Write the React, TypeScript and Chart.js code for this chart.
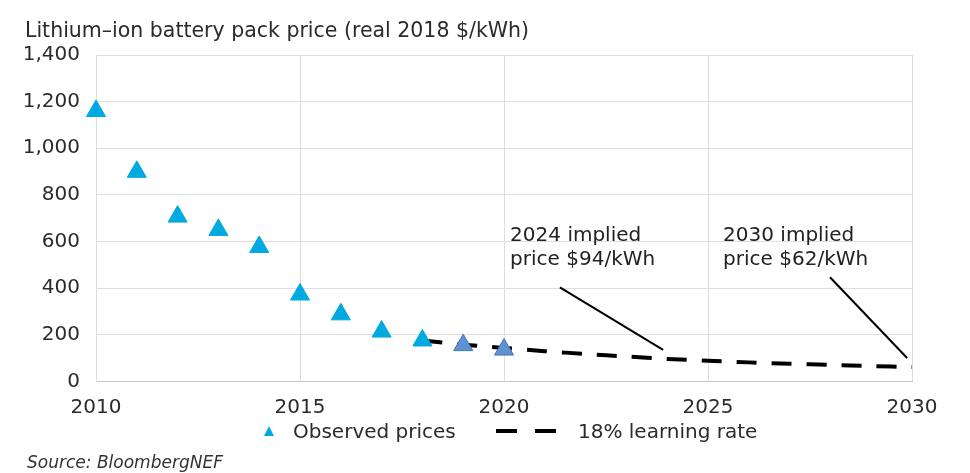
import React, { useEffect, useRef } from "react";
import { Chart, registerables } from "chart.js";

Chart.register(...registerables);

// ---- Data ----
const observedYears = [2010, 2011, 2012, 2013, 2014, 2015, 2016, 2017, 2018, 2019, 2020];
const observedPrices = [1160, 899, 707, 650, 577, 373, 288, 214, 176, 156, 137];
const observedColors = [
  "#00A9E0", "#00A9E0", "#00A9E0", "#00A9E0", "#00A9E0", "#00A9E0",
  "#00A9E0", "#00A9E0", "#00A9E0", "#5B93D3", "#5B93D3",
];
const observedBorders = [
  "#00A9E0", "#00A9E0", "#00A9E0", "#00A9E0", "#00A9E0", "#00A9E0",
  "#00A9E0", "#00A9E0", "#00A9E0", "#4676B0", "#4676B0",
];

const curveYears = [2018, 2019, 2020, 2021, 2022, 2023, 2024, 2025, 2026, 2027, 2028, 2029, 2030];
const curvePrices = [176, 158, 144, 130, 118, 107, 97, 89, 82, 76, 71, 66, 62];

const leader1Years = [2021.37, 2023.9];
const leader1Prices = [404, 136];
const leader2Years = [2027.99, 2029.88];
const leader2Prices = [447, 101];

const annotations = [
  { x: 2020.15, y: 624, lines: ["2024 implied", "price $94/kWh"] },
  { x: 2025.37, y: 624, lines: ["2030 implied", "price $62/kWh"] },
];

const xTicks = [2010, 2015, 2020, 2025, 2030];
const yTicks = [0, 200, 400, 600, 800, 1000, 1200, 1400];

const titleText = "Lithium\u2013ion battery pack price (real 2018 $/kWh)";
const legendObserved = "Observed prices";
const legendCurve = "18% learning rate";
const sourceText = "Source: BloombergNEF";

const FONT = "'DejaVu Sans', 'Open Sans', sans-serif";
const TEXT = "#2b2b2b";

const annotationPlugin = {
  id: "annotText",
  afterDatasetsDraw(chart: any) {
    const { ctx, scales } = chart;
    ctx.save();
    ctx.font = `20px ${FONT}`;
    ctx.fillStyle = "#222222";
    ctx.textAlign = "left";
    ctx.textBaseline = "middle";
    annotations.forEach((a) => {
      const px = scales.x.getPixelForValue(a.x);
      const py = scales.y.getPixelForValue(a.y);
      a.lines.forEach((l, i) => ctx.fillText(l, px, py + i * 24));
    });
    ctx.restore();
  },
};

export default function App() {
  const ref = useRef<HTMLCanvasElement | null>(null);

  useEffect(() => {
    if (!ref.current) return;
    const chart = new Chart(ref.current, {
      type: "scatter",
      data: {
        datasets: [
          {
            label: legendObserved,
            data: observedYears.map((x, i) => ({ x, y: observedPrices[i] })),
            pointStyle: "triangle",
            pointRadius: 11,
            pointBackgroundColor: observedColors,
            pointBorderColor: observedBorders,
            pointBorderWidth: 1,
            showLine: false,
            clip: false,
            order: 0,
          } as any,
          {
            label: legendCurve,
            data: curveYears.map((x, i) => ({ x, y: curvePrices[i] })),
            showLine: true,
            borderColor: "#000000",
            borderWidth: 4,
            borderDash: [20, 15],
            borderCapStyle: "butt",
            pointRadius: 0,
            tension: 0.3,
            clip: false,
            order: 1,
          } as any,
          {
            label: "leader1",
            data: leader1Years.map((x, i) => ({ x, y: leader1Prices[i] })),
            showLine: true,
            borderColor: "#000000",
            borderWidth: 2,
            pointRadius: 0,
            order: 2,
          } as any,
          {
            label: "leader2",
            data: leader2Years.map((x, i) => ({ x, y: leader2Prices[i] })),
            showLine: true,
            borderColor: "#000000",
            borderWidth: 2,
            pointRadius: 0,
            order: 2,
          } as any,
        ],
      },
      options: {
        animation: false,
        responsive: false,
        devicePixelRatio: 1,
        layout: { padding: { top: 55, right: 58, bottom: 51.5, left: 0 } },
        plugins: {
          legend: { display: false },
          tooltip: { enabled: false },
        },
        scales: {
          x: {
            type: "linear",
            min: 2010,
            max: 2030,
            afterBuildTicks: (s: any) => {
              s.ticks = xTicks.map((v) => ({ value: v }));
            },
            afterFit: (s: any) => {
              s.height = 40;
            },
            ticks: {
              callback: (v: any) => String(v),
              font: { family: FONT, size: 20 },
              color: TEXT,
              padding: 14,
              maxRotation: 0,
              autoSkip: false,
            },
            grid: { color: "#dedede", drawTicks: false, lineWidth: 1 },
            border: { color: "#c8c8c8" },
          },
          y: {
            min: 0,
            max: 1400,
            afterBuildTicks: (s: any) => {
              s.ticks = yTicks.map((v) => ({ value: v }));
            },
            afterFit: (s: any) => {
              s.width = 96;
            },
            ticks: {
              callback: (v: any) => Number(v).toLocaleString("en-US"),
              font: { family: FONT, size: 20 },
              color: TEXT,
              padding: 16,
            },
            grid: { color: "#dedede", drawTicks: false, lineWidth: 1 },
            border: { color: "#dedede" },
          },
        },
      } as any,
      plugins: [annotationPlugin],
    });
    return () => chart.destroy();
  }, []);

  return (
    <div
      style={{
        position: "fixed",
        left: 0,
        top: 0,
        width: 970,
        height: 473,
        background: "#ffffff",
        fontFamily: FONT,
        color: TEXT,
      }}
    >
      <canvas ref={ref} width={970} height={473} style={{ position: "absolute", left: 0, top: 0 }} />
      <div style={{ position: "absolute", left: 25, top: 17, fontSize: 20.5, lineHeight: "26px", whiteSpace: "nowrap" }}>
        {titleText}
      </div>
      <div style={{ position: "absolute", left: 0, top: 419, width: 970, height: 24 }}>
        <div
          style={{
            position: "absolute",
            left: 264,
            top: 7,
            width: 0,
            height: 0,
            borderLeft: "5.5px solid transparent",
            borderRight: "5.5px solid transparent",
            borderBottom: "10px solid #00A9E0",
          }}
        />
        <div style={{ position: "absolute", left: 293, top: 0, fontSize: 20, lineHeight: "24px", whiteSpace: "nowrap" }}>
          {legendObserved}
        </div>
        <div style={{ position: "absolute", left: 496, top: 10, width: 21, height: 4, background: "#000" }} />
        <div style={{ position: "absolute", left: 535, top: 10, width: 21, height: 4, background: "#000" }} />
        <div style={{ position: "absolute", left: 578, top: 0, fontSize: 20, lineHeight: "24px", whiteSpace: "nowrap" }}>
          {legendCurve}
        </div>
      </div>
      <div
        style={{
          position: "absolute",
          left: 27,
          top: 451,
          fontSize: 17,
          lineHeight: "22px",
          fontStyle: "italic",
          color: "#333",
          whiteSpace: "nowrap",
        }}
      >
        {sourceText}
      </div>
    </div>
  );
}
